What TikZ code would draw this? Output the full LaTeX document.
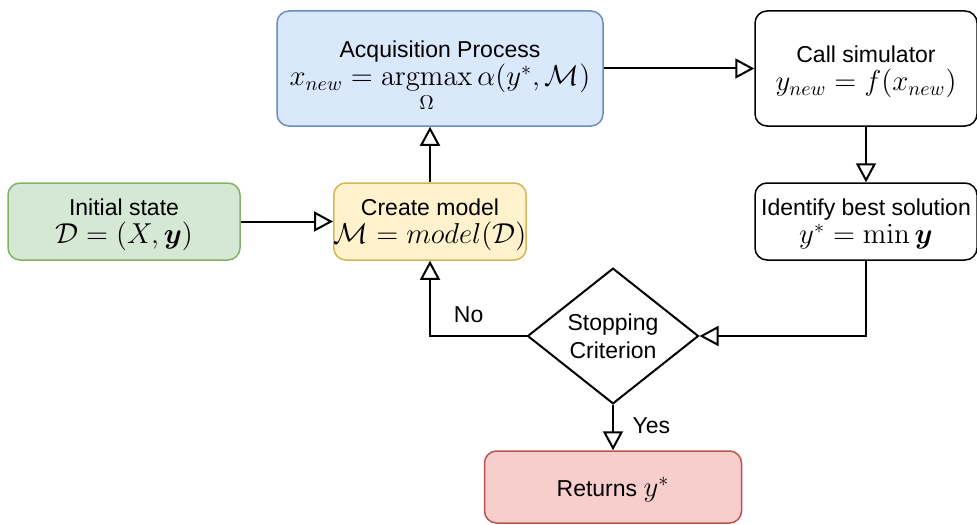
\documentclass[tikz,border=0pt]{standalone}
\usepackage[no-math]{fontspec}
\setmainfont{Liberation Sans}
\usepackage{amsmath}
\usepackage{amssymb}
\usepackage{bm}
\usetikzlibrary{arrows.meta}
\usetikzlibrary{shapes.geometric}

\definecolor{acqfill}{HTML}{DAE8FC}
\definecolor{acqdraw}{HTML}{6C8EBF}
\definecolor{initfill}{HTML}{D5E8D4}
\definecolor{initdraw}{HTML}{82B366}
\definecolor{modelfill}{HTML}{FFF2CC}
\definecolor{modeldraw}{HTML}{D6B656}
\definecolor{retfill}{HTML}{F8CECC}
\definecolor{retdraw}{HTML}{B85450}

\newcommand{\mline}[1]{{\fontsize{14}{16}\selectfont$#1$}}

\begin{document}
\begin{tikzpicture}[x=0.5pt, y=-0.5pt,
    box/.style={draw, rounded corners=6pt, line width=0.75pt, align=center, inner sep=0pt, text depth=0pt, font=\fontsize{11.5}{14}\selectfont},
    flow/.style={-{Triangle[open, length=9.5pt, width=10pt]}, line width=1pt},
    lbl/.style={font=\fontsize{11.5}{13}\selectfont}]
  \useasboundingbox (0,0) rectangle (977,524);

  \node[box, text depth=5pt, fill=acqfill, draw=acqdraw, minimum width=163pt, minimum height=57.5pt] (acq) at (440,68.5)
    {Acquisition Process\\ \mline{x_{new} = \mathop{\mathrm{argmax}}\limits_{\Omega} \alpha(y^*, \mathcal{M})}};
  \node[box, minimum width=111pt, minimum height=57.5pt] (sim) at (866,68.5)
    {Call simulator\\ \mline{y_{new} = f(x_{new})}};
  \node[box, fill=initfill, draw=initdraw, minimum width=116pt, minimum height=38.5pt] (init) at (124,221.5)
    {Initial state\\ \mline{\mathcal{D} = (X, \bm{y})}};
  \node[box, fill=modelfill, draw=modeldraw, minimum width=96pt, minimum height=38.5pt] (model) at (430,221.5)
    {Create model\\ \mline{\mathcal{M} = model(\mathcal{D})}};
  \node[box, minimum width=111pt, minimum height=38.5pt] (best) at (866,221.5)
    {Identify best solution\\ \mline{y^* = \min \bm{y}}};
  \node[diamond, draw, line width=1pt, align=center, inner sep=0pt, minimum width=85.5pt, minimum height=57pt, font=\fontsize{11.5}{14}\selectfont] (crit) at (613,336)
    {Stopping\\Criterion};
  \node[box, fill=retfill, draw=retdraw, minimum width=128.5pt, minimum height=36pt] (ret) at (613,487)
    {Returns \mline{y^*}};

  \draw[flow] (init) -- (model);
  \draw[flow] (model.north) -- (model.north |- acq.south);
  \draw[flow] (acq) -- (sim);
  \draw[flow] (sim) -- (best);
  \draw[flow] (best.south) |- (crit.east);
  \draw[flow] (crit.west) -| node[lbl, pos=0.3, above=3pt] {No} (model.south);
  \draw[flow] (crit.south) -- node[lbl, right=6pt, pos=0.45] {Yes} (ret.north);
\end{tikzpicture}
\end{document}
